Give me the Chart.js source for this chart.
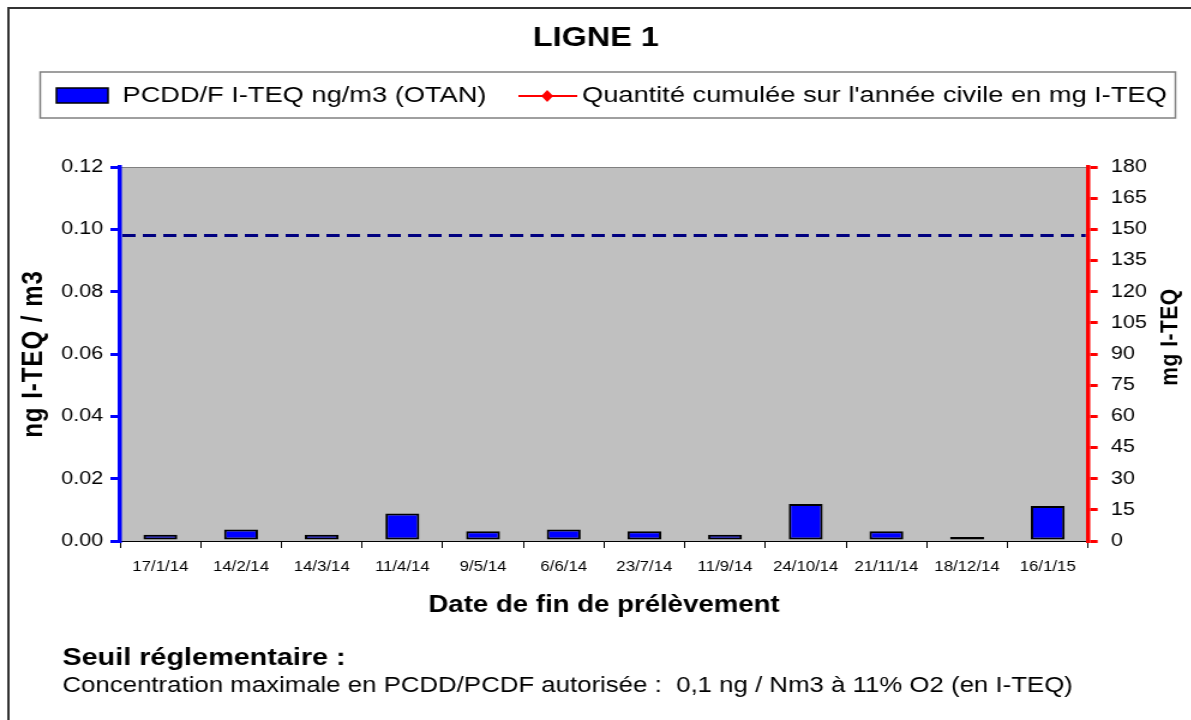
<!DOCTYPE html>
<html lang="fr">
<head>
<meta charset="UTF-8">
<title>LIGNE 1</title>
<script src="https://cdn.jsdelivr.net/npm/chart.js@4.4.1/dist/chart.umd.min.js"></script>
<style>
    html, body { margin: 0; padding: 0; background: #fff; overflow: hidden; }
    /* the original picture is stretched horizontally, so the chart is drawn narrower and scaled */
    #wrap { width: 993px; height: 720px; transform: scaleX(1.2); transform-origin: 0 0; }
    #chart { width: 993px; height: 720px; }
</style>
</head>
<body>
<div id="wrap"><canvas id="chart" width="993" height="720" style="width:993px;height:720px"></canvas></div>
<script>
// data
const categories = ['17/1/14', '14/2/14', '14/3/14', '11/4/14', '9/5/14', '6/6/14',
                    '23/7/14', '11/9/14', '24/10/14', '21/11/14', '18/12/14', '16/1/15'];
const pcddValues = [0.0020, 0.0037, 0.0020, 0.0088, 0.0031, 0.0037,
                    0.0031, 0.0020, 0.0119, 0.0031, 0.0013, 0.0112];
const cumulValues = [null, null, null, null, null, null, null, null, null, null, null, null];
const seuilValue = 0.098;
const leftAxis = { min: 0, max: 0.12, step: 0.02 };
const rightAxis = { min: 0, max: 180, step: 15 };

const FONT = "'Liberation Sans', Arial, sans-serif";

const decor = {
    id: 'decor',
    beforeDraw(chart) {
        const { ctx, chartArea: a } = chart;
        ctx.save();
        // outer frame (only left and top edges are in the picture)
        ctx.strokeStyle = '#333';
        ctx.lineWidth = 2;
        ctx.beginPath();
        ctx.moveTo(7, chart.height);
        ctx.lineTo(7, 8);
        ctx.lineTo(chart.width, 8);
        ctx.stroke();
        // plot background
        ctx.fillStyle = '#c0c0c0';
        ctx.fillRect(a.left, a.top, a.right - a.left, a.bottom - a.top);
        ctx.strokeStyle = '#808080';
        ctx.lineWidth = 1;
        ctx.strokeRect(a.left, a.top + 0.5, a.right - a.left, a.bottom - a.top);
        ctx.restore();
    },
    afterDatasetsDraw(chart) {
        // regulatory threshold, dashed
        const { ctx, chartArea: a } = chart;
        const y = chart.scales.y.getPixelForValue(seuilValue);
        ctx.save();
        ctx.strokeStyle = '#000080';
        ctx.lineWidth = 3;
        ctx.setLineDash([11, 6]);
        ctx.beginPath();
        ctx.moveTo(a.left + 2, y);
        ctx.lineTo(a.right - 2, y);
        ctx.stroke();
        ctx.restore();
    },
    afterDraw(chart) {
        const { ctx, chartArea: a } = chart;
        const ds = chart.data.datasets;
        ctx.save();

        // legend box
        ctx.strokeStyle = '#808080';
        ctx.lineWidth = 1.5;
        ctx.strokeRect(33.5, 72, 946, 46);
        ctx.font = '22.7px ' + FONT;
        ctx.textBaseline = 'middle';
        // bar item
        ctx.fillStyle = ds[0].backgroundColor;
        ctx.fillRect(47, 88, 43, 15);
        ctx.strokeStyle = '#000';
        ctx.lineWidth = 1.5;
        ctx.strokeRect(47, 88, 43, 15);
        ctx.fillStyle = '#000';
        ctx.fillText(ds[0].label, 102, 96);
        // line item
        ctx.strokeStyle = ds[1].borderColor;
        ctx.lineWidth = 2;
        ctx.beginPath();
        ctx.moveTo(432, 96);
        ctx.lineTo(481, 96);
        ctx.stroke();
        ctx.fillStyle = ds[1].pointBackgroundColor;
        ctx.beginPath();
        ctx.moveTo(456, 90);
        ctx.lineTo(461, 96);
        ctx.lineTo(456, 102);
        ctx.lineTo(451, 96);
        ctx.closePath();
        ctx.fill();
        ctx.fillStyle = '#000';
        ctx.fillText(ds[1].label, 485, 96);

        // axis titles (both read bottom to top)
        const cy = (a.top + a.bottom) / 2;
        ctx.textAlign = 'center';
        ctx.font = 'bold 24px ' + FONT;
        ctx.letterSpacing = '1px';
        ctx.save();
        ctx.translate(28, cy);
        ctx.rotate(-Math.PI / 2);
        ctx.fillText('ng I-TEQ / m3', 0, 0);
        ctx.restore();
        ctx.font = 'bold 21px ' + FONT;
        ctx.letterSpacing = '0.5px';
        ctx.save();
        ctx.translate(975, cy - 17);
        ctx.rotate(-Math.PI / 2);
        ctx.fillText('mg I-TEQ', 0, 0);
        ctx.restore();
        ctx.letterSpacing = '0px';

        // note under the chart
        ctx.textAlign = 'left';
        ctx.textBaseline = 'alphabetic';
        ctx.font = 'bold 24px ' + FONT;
        ctx.fillText('Seuil réglementaire :', 52, 665);
        ctx.font = '21.5px ' + FONT;
        ctx.fillText('Concentration maximale en PCDD/PCDF autorisée :  0,1 ng / Nm3 à 11% O2 (en I-TEQ)', 52, 692);
        ctx.restore();
    }
};

new Chart(document.getElementById('chart'), {
    data: {
        labels: categories,
        datasets: [
            {
                type: 'bar',
                label: 'PCDD/F I-TEQ ng/m3 (OTAN)',
                data: pcddValues,
                backgroundColor: '#0000ff',
                borderColor: '#000',
                borderWidth: 2,
                borderSkipped: false,
                barPercentage: 0.42,
                categoryPercentage: 1,
                yAxisID: 'y'
            },
            {
                type: 'line',
                label: "Quantité cumulée sur l'année civile en mg I-TEQ",
                data: cumulValues,
                borderColor: '#ff0000',
                pointBackgroundColor: '#ff0000',
                pointStyle: 'rectRot',
                pointRadius: 5,
                yAxisID: 'y1'
            }
        ]
    },
    options: {
        responsive: false,
        animation: false,
        layout: { padding: { top: 0, left: 0, right: 0, bottom: 97 } },
        plugins: {
            legend: { display: false },
            tooltip: { enabled: false },
            title: {
                display: true,
                text: 'LIGNE 1',
                color: '#000',
                font: { family: FONT, size: 27, weight: 'bold' },
                padding: { top: 22, bottom: 112.6 }
            }
        },
        scales: {
            x: {
                offset: true,
                grid: { offset: true, drawOnChartArea: false, drawTicks: true, tickLength: 7, color: '#000', lineWidth: 1 },
                border: { color: '#000', width: 1 },
                ticks: {
                    color: '#000', maxRotation: 0, autoSkip: false, padding: 11,
                    font: { family: FONT, size: 14 }
                },
                title: {
                    display: true,
                    text: 'Date de fin de prélèvement',
                    color: '#000',
                    font: { family: FONT, size: 23, weight: 'bold' },
                    padding: { top: 0, bottom: 4 }
                },
                afterFit(scale) { scale.height = 82; }
            },
            y: {
                position: 'left',
                min: leftAxis.min,
                max: leftAxis.max,
                grid: { drawOnChartArea: false, tickLength: 8, color: '#0000ff', lineWidth: 3 },
                border: { color: '#0000ff', width: 3.5 },
                ticks: {
                    stepSize: leftAxis.step, color: '#000', padding: 6,
                    font: { family: FONT, size: 18 },
                    callback: v => v.toFixed(2)
                },
                afterFit(scale) { scale.width = 100; }
            },
            y1: {
                position: 'right',
                min: rightAxis.min,
                max: rightAxis.max,
                grid: { drawOnChartArea: false, tickLength: 8, color: '#ff0000', lineWidth: 3 },
                border: { color: '#ff0000', width: 3.5 },
                ticks: {
                    stepSize: rightAxis.step, color: '#000', padding: 11,
                    font: { family: FONT, size: 18 }
                },
                afterFit(scale) { scale.width = 86.3; }
            }
        }
    },
    plugins: [decor]
});
</script>
</body>
</html>
